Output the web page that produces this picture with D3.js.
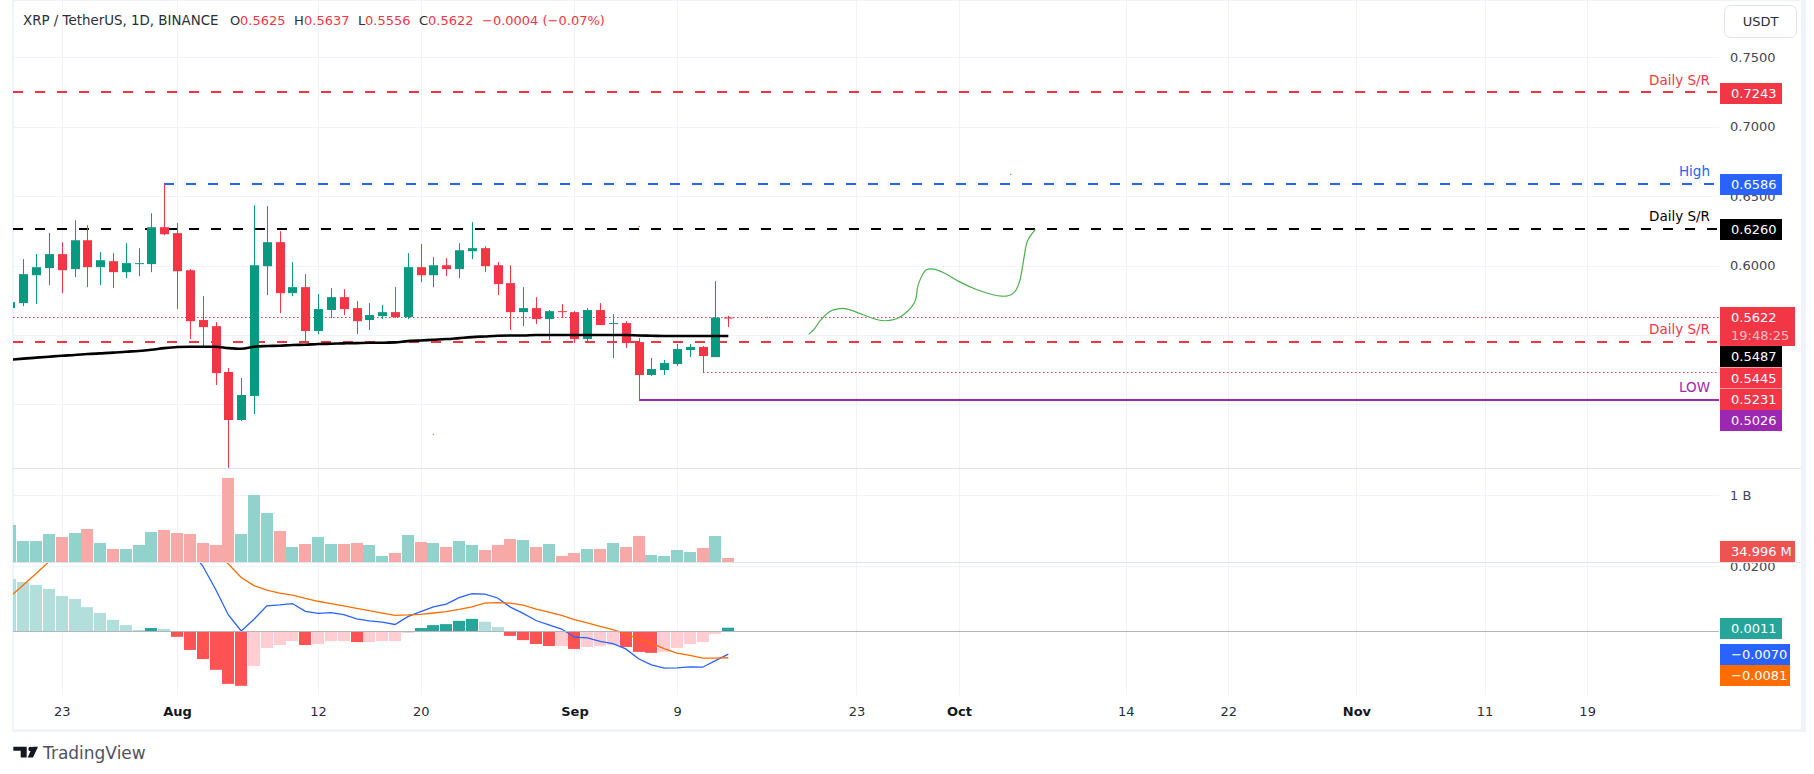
<!DOCTYPE html>
<html><head><meta charset="utf-8">
<script src="https://cdnjs.cloudflare.com/ajax/libs/d3/7.8.5/d3.min.js"></script>
<style>html,body{margin:0;padding:0;background:#fff;overflow:hidden}svg{display:block}text{font-family:"DejaVu Sans",sans-serif}</style>
</head><body><svg id="c" width="1814" height="774"></svg>
<script>
// ---- data (index 0 = 19 Jul, index 56 = 13 Sep) ----
const open =[.5693,.5729,.5930,.5981,.6082,.5974,.6182,.5988,.6031,.5952,.6010,.6010,.6276,.6233,.5966,.5607,.5563,.5233,.4887,.5060,.5995,.6168,.5801,.5844,.5528,.5679,.5772,.5693,.5607,.5635,.5664,.5628,.5988,.5930,.6002,.5974,.6103,.6125,.6002,.5873,.5664,.5693,.5614,.5671,.5664,.5470,.5679,.5578,.5585,.5448,.5211,.5247,.5290,.5391,.5413,.5340,.5625];
const high =[.5751,.6046,.6082,.6233,.6168,.6326,.6290,.6096,.6089,.6161,.6125,.6376,.6586,.6305,.5974,.5779,.5592,.5261,.5189,.6434,.6427,.6247,.6024,.5938,.5794,.5837,.5830,.5743,.5729,.5715,.5844,.6089,.6154,.6060,.6053,.6161,.6312,.6139,.6024,.6002,.5844,.5772,.5679,.5722,.5671,.5693,.5729,.5650,.5599,.5477,.5333,.5319,.5434,.5434,.5420,.5887,.5637];
const low  =[.5674,.5707,.5722,.5858,.5801,.5916,.5844,.5858,.5837,.5909,.5923,.5952,.6218,.5686,.5470,.5413,.5139,.4542,.4880,.4930,.5787,.5657,.5779,.5448,.5506,.5621,.5643,.5506,.5535,.5614,.5621,.5614,.5880,.5844,.5923,.5909,.6046,.5952,.5787,.5535,.5563,.5578,.5463,.5621,.5441,.5453,.5571,.5333,.5405,.5026,.5204,.5211,.5276,.5340,.5231,.5340,.5556];
const close=[.5736,.5938,.5988,.6082,.5966,.6182,.5988,.6038,.5952,.6017,.6017,.6276,.6225,.5959,.5599,.5556,.5225,.4887,.5067,.6002,.6168,.5801,.5844,.5528,.5686,.5772,.5686,.5599,.5643,.5664,.5628,.5988,.5930,.6002,.5974,.6110,.6125,.5995,.5866,.5664,.5693,.5614,.5671,.5664,.5470,.5679,.5571,.5585,.5441,.5211,.5254,.5297,.5398,.5413,.5348,.5625,.5622];
const ma200=[.5321,.5329,.5336,.5343,.5350,.5355,.5362,.5367,.5372,.5379,.5384,.5393,.5405,.5413,.5415,.5415,.5415,.5405,.5400,.5415,.5420,.5422,.5427,.5429,.5434,.5436,.5439,.5441,.5443,.5443,.5446,.5455,.5460,.5465,.5470,.5477,.5484,.5489,.5494,.5496,.5496,.5499,.5499,.5499,.5499,.5499,.5499,.5499,.5499,.5496,.5494,.5492,.5492,.5492,.5492,.5492,.5492];
const volumeM=[555,315,315,420,375,435,495,285,195,195,255,450,480,435,420,285,255,1260,420,1005,735,465,225,270,375,270,270,285,255,90,135,405,300,285,225,315,255,180,255,345,330,225,270,90,135,195,195,285,225,390,105,90,180,150,210,390,60];
const hist=[.0160,.0151,.0142,.0130,.0108,.0099,.0074,.0056,.0035,.0019,.0004,.0010,.0007,-.0017,-.0057,-.0085,-.0118,-.0161,-.0167,-.0106,-.0051,-.0042,-.0030,-.0042,-.0039,-.0030,-.0030,-.0033,-.0033,-.0030,-.0030,-.0005,.0010,.0019,.0022,.0032,.0038,.0029,.0013,-.0014,-.0027,-.0039,-.0045,-.0045,-.0054,-.0048,-.0045,-.0042,-.0048,-.0063,-.0066,-.0063,-.0051,-.0039,-.0033,-.0008,.0011];
const macd=[null,null,null,null,null,null,null,null,null,null,null,null,null,null,.0249,.0200,.0129,.0050,.0001,.0037,.0078,.0081,.0085,.0061,.0055,.0057,.0051,.0038,.0032,.0028,.0021,.0045,.0060,.0075,.0083,.0103,.0115,.0114,.0102,.0074,.0055,.0033,.0020,.0007,-.0018,-.0020,-.0031,-.0038,-.0054,-.0084,-.0103,-.0113,-.0112,-.0109,-.0110,-.0090,-.0070];
const signal=[.0107,.0142,.0177,.0213,null,null,null,null,null,null,null,null,null,null,null,null,.0244,.0206,.0165,.0140,.0126,.0117,.0111,.0101,.0092,.0085,.0078,.0070,.0063,.0056,.0049,.0050,.0052,.0056,.0060,.0067,.0075,.0086,.0088,.0086,.0080,.0068,.0059,.0049,.0036,.0026,.0015,.0005,-.0008,-.0023,-.0037,-.0053,-.0067,-.0074,-.0082,-.0082,-.0081];
const sketchIdx=[62.28,62.75,63.14,63.92,64.57,65.22,66.52,67.56,68.29,69.12,69.77,70.55,70.81,71.20,71.46,71.98,72.76,74.06,75.36,76.66,77.31,77.83,78.35,78.74,78.95,79.08,79.34,79.96];
const sketchPrice=[.5504,.5547,.5599,.5669,.5688,.5688,.5645,.5611,.5602,.5616,.5652,.5739,.5859,.5942,.5969,.5974,.5950,.5882,.5827,.5789,.5779,.5782,.5810,.5890,.5990,.6062,.6177,.6260];
const speckIdx=[49,32.94,59,77.98];
const speckPrice=[.6285,.4788,.5631,.6661];
const speckKind=["red","green","green","green"];
const priceGrid=[.75,.70,.65,.60,.55,.50];
const priceLabels=[.75,.70,.65,.60];
const volumeTicks=[1000];
const macdTicks=[.02];
const timeTickIdx=[4,13,24,32,44,52,66,74,87,95,105,115,123];
const timeTickLabels=["23","Aug","12","20","Sep","9","23","Oct","14","22","Nov","11","19"];
const monthLabels=["Aug","Sep","Oct","Nov"];
const levelNames=["red1","blue","black","red2","redLow","purple"];
const levelValues=[.7243,.6586,.6260,.5445,.5231,.5026];
const levelStartIdx=[null,12,null,null,54,49];
const legend=[["O","n"],["0.5625","v"],["H","n"],["0.5637","v"],["L","n"],["0.5556","v"],["C","n"],["0.5622","v"],["−0.0004 (−0.07%)","v"]];

// ---- layout ----
const RED="#F23645",GRN="#089981",BLUE="#2962FF",BLK="#000",PUR="#9C27B0",ORG="#FF6D00";
const L=13,R=1719,AX=1720;
const svg=d3.select("#c");
const x=d3.scaleLinear().domain([0,56]).range([10.48,728.3]);
const y=d3.scaleLinear().domain([.75,.50]).range([57.3,404.3]);
const yV=d3.scaleLinear().domain([0,1000]).range([562,495.3]);
const yM=d3.scaleLinear().domain([.02,0]).range([566,631.3]);
const cx=i=>Math.round(x(i));
const defs=svg.append("defs");
function clip(id,a,b,c,d){defs.append("clipPath").attr("id",id).append("rect").attr("x",a).attr("y",b).attr("width",c-a).attr("height",d-b);}
clip("pP",L,1,R,468);clip("pV",L,468,R,562);clip("pM",L,563,R,695);clip("aM",1720,563,1800,700);

// frame and grid
const G="#F0F3FA";
const grid=svg.append("g").attr("stroke",G).attr("stroke-width",1);
grid.selectAll("line.v").data(timeTickIdx).join("line").attr("x1",d=>cx(d)+.5).attr("x2",d=>cx(d)+.5).attr("y1",1).attr("y2",695);
grid.selectAll("line.p").data(priceGrid).join("line").attr("x1",L).attr("x2",R).attr("y1",d=>Math.round(y(d))+.5).attr("y2",d=>Math.round(y(d))+.5);
grid.selectAll("line.w").data(volumeTicks).join("line").attr("x1",L).attr("x2",R).attr("y1",d=>Math.round(yV(d))+.5).attr("y2",d=>Math.round(yV(d))+.5);
grid.selectAll("line.m").data(macdTicks).join("line").attr("x1",L).attr("x2",R).attr("y1",d=>Math.round(yM(d))+.5).attr("y2",d=>Math.round(yM(d))+.5);
svg.append("rect").attr("x",12).attr("y",0).attr("width",2).attr("height",731).attr("fill",G);
svg.append("rect").attr("x",1801).attr("y",0).attr("width",5).attr("height",731).attr("fill",G);
svg.append("rect").attr("x",12).attr("y",729).attr("width",1794).attr("height",3).attr("fill",G);
svg.append("rect").attr("x",12).attr("y",0).attr("width",1794).attr("height",1).attr("fill",G);
svg.append("line").attr("x1",L).attr("x2",1801).attr("y1",468.5).attr("y2",468.5).attr("stroke","#E0E3EB");
svg.append("line").attr("x1",L).attr("x2",1801).attr("y1",562.5).attr("y2",562.5).attr("stroke","#E0E3EB");

// volume
const idx=d3.range(open.length);
svg.append("g").attr("clip-path","url(#pV)").selectAll("rect").data(idx).join("rect")
 .attr("x",i=>cx(i)-6).attr("width",12).attr("y",i=>yV(volumeM[i])).attr("height",i=>yV(0)-yV(volumeM[i]))
 .attr("fill",i=>close[i]>=open[i]?"#92D2CC":"#F7A9A7");

// macd pane
function histColor(i){const h=hist[i],p=i?hist[i-1]:h+1;
 return h>=0?(h>p?"#26A69A":"#B2DFDB"):(h<p?"#FF5252":"#FFCDD2");}
const gM=svg.append("g").attr("clip-path","url(#pM)");
gM.selectAll("rect").data(idx).join("rect")
 .attr("x",i=>cx(i)-6).attr("width",12)
 .attr("y",i=>Math.min(yM(0),yM(hist[i]))).attr("height",i=>Math.abs(yM(0)-yM(hist[i])))
 .attr("fill",histColor);
svg.append("line").attr("x1",L).attr("x2",R).attr("y1",631.5).attr("y2",631.5).attr("stroke","#B2B5BE");
const lineOf=(arr,sc)=>d3.line().defined(i=>arr[i]!==null).x(i=>x(i)).y(i=>sc(arr[i]));
gM.append("path").attr("d",lineOf(macd,yM)(idx)).attr("fill","none").attr("stroke",BLUE).attr("stroke-width",1.3);
gM.append("path").attr("d",lineOf(signal,yM)(idx)).attr("fill","none").attr("stroke",ORG).attr("stroke-width",1.3);

// price pane
const gP=svg.append("g").attr("clip-path","url(#pP)");
const style={red1:[RED,"10 12",2],blue:[BLUE,"10 12",2],black:[BLK,"10 12",2],red2:[RED,"10 12",2],redLow:[RED,"1.5 2.5",1],purple:[PUR,null,2]};
const lastY=Math.floor(y(close[56]))+.5;
gP.append("line").attr("x1",L).attr("x2",R).attr("y1",lastY).attr("y2",lastY).attr("stroke",RED).attr("stroke-dasharray","1.5 2.5");
levelNames.forEach((n,k)=>{const s=style[n];
 const ly=Math.floor(y(levelValues[k]))+(s[2]===1?.5:0);
 gP.append("line").attr("x1",levelStartIdx[k]===null?L:cx(levelStartIdx[k])).attr("x2",R)
  .attr("y1",ly).attr("y2",ly).attr("stroke",s[0]).attr("stroke-width",s[2]).attr("stroke-dasharray",s[1]);
});
const cG=gP.append("g").selectAll("g").data(idx).join("g");
cG.append("line").attr("x1",i=>cx(i)+.5).attr("x2",i=>cx(i)+.5).attr("y1",i=>y(high[i])).attr("y2",i=>y(low[i]))
 .attr("stroke",i=>close[i]>=open[i]?GRN:RED);
cG.append("rect").attr("x",i=>cx(i)-4).attr("width",9)
 .attr("y",i=>y(Math.max(open[i],close[i]))).attr("height",i=>Math.max(1,Math.abs(y(open[i])-y(close[i]))))
 .attr("fill",i=>close[i]>=open[i]?GRN:RED);
gP.append("path").attr("d",d3.line().x(i=>x(i)).y(i=>y(ma200[i])).curve(d3.curveMonotoneX)(idx))
 .attr("fill","none").attr("stroke",BLK).attr("stroke-width",2.6);
gP.append("path").attr("d",d3.line().x((d,i)=>x(sketchIdx[i])).y(d=>y(d)).curve(d3.curveCatmullRom)(sketchPrice))
 .attr("fill","none").attr("stroke","#4CAF50").attr("stroke-width",1.2);
gP.selectAll("rect.s").data(speckIdx).join("rect").attr("class","s").attr("x",d=>x(d)).attr("y",(d,i)=>y(speckPrice[i])).attr("width",1.2).attr("height",1.2)
 .attr("fill",(d,i)=>speckKind[i]==="red"?RED:"#4CAF50");

// axes
function styleAxis(g){g.select(".domain").remove();g.selectAll(".tick line").remove();g.selectAll("text").attr("font-family",'"DejaVu Sans",sans-serif').attr("font-size",13).attr("fill","#434651");}
svg.append("g").attr("transform",`translate(${AX},0)`).call(d3.axisRight(y).tickValues(priceLabels).tickFormat(d3.format(".4f")).tickSize(0).tickPadding(10)).call(styleAxis);
svg.append("g").attr("transform",`translate(${AX},0)`).call(d3.axisRight(yV).tickValues(volumeTicks).tickFormat(()=>"1 B").tickSize(0).tickPadding(10)).call(styleAxis);
svg.append("g").attr("clip-path","url(#aM)").append("g").attr("transform",`translate(${AX},0)`).call(d3.axisRight(yM).tickValues(macdTicks).tickFormat(d3.format(".4f")).tickSize(0).tickPadding(10)).call(styleAxis);
const tAxis=svg.append("g").attr("transform","translate(0,696)").call(d3.axisBottom(x).tickValues(timeTickIdx).tickFormat((d,i)=>timeTickLabels[i]).tickSize(0).tickPadding(11)).call(styleAxis);
tAxis.selectAll("text").attr("fill",(d,i)=>monthLabels.includes(timeTickLabels[i])?"#131722":"#2A2E39").attr("font-weight",(d,i)=>monthLabels.includes(timeTickLabels[i])?"bold":"normal");

// text labels on lines
function note(t,yy,c){svg.append("text").attr("x",1710).attr("y",yy).attr("text-anchor","end").attr("dominant-baseline","central").attr("font-size",13.5).attr("fill",c).text(t);}
note("Daily S/R",80,RED);note("High",171,BLUE);note("Daily S/R",216,BLK);note("Daily S/R",329,RED);note("LOW",387,PUR);

// right-hand value boxes
function box(t,top,h,w,c,sub){
 svg.append("rect").attr("x",AX).attr("y",top).attr("width",w).attr("height",h).attr("fill",c);
 svg.append("text").attr("x",1731).attr("y",top+h/2+(sub?-9:0)).attr("dominant-baseline","central").attr("font-size",13).attr("fill","#fff").text(t);
 if(sub)svg.append("text").attr("x",1731).attr("y",top+h/2+9).attr("dominant-baseline","central").attr("font-size",13).attr("fill","#FFFFFF").attr("fill-opacity",.7).text(sub);
}
box("0.7243",83,21,62,RED);box("0.6586",174,21,62,BLUE);box("0.6260",219,21,62,BLK);
box("0.5622",307,39,75,RED,"19:48:25");
box("0.5487",346,21,62,BLK);box("0.5445",367.5,21,62,RED);box("0.5231",389,21,62,RED);box("0.5026",410,21,62,PUR);
box("34.996 M",541,21,75,"#EF5350");
box("0.0011",618,21,62,"#26A69A");box("−0.0070",644,21,70,BLUE);box("−0.0081",665,21,70,ORG);

// currency button
svg.append("rect").attr("x",1724.5).attr("y",5.5).attr("width",72).attr("height",32).attr("rx",6).attr("fill","#fff").attr("stroke","#E0E3EB");
svg.append("text").attr("x",1760.5).attr("y",21).attr("text-anchor","middle").attr("dominant-baseline","central").attr("font-size",13).attr("fill","#2A2E39").text("USDT");

// legend
svg.append("text").attr("x",23).attr("y",20).attr("dominant-baseline","central").attr("font-size",13.4).attr("fill","#2A2E39").text("XRP / TetherUS, 1D, BINANCE");
const legendX=[230,240,294,304,358,365,419,428,482];
legend.forEach((d,i)=>svg.append("text").attr("x",legendX[i]).attr("y",20).attr("dominant-baseline","central").attr("font-size",13).attr("fill",d[1]==="v"?RED:"#2A2E39").text(d[0]));

// logo
svg.append("path").attr("d","M13.3 746.7H26.7V757.4H20.7V750.7H13.3Z").attr("fill","#131722");
svg.append("circle").attr("cx",30.5).attr("cy",749).attr("r",2.2).attr("fill","#131722");
svg.append("path").attr("d","M32.5 746.7H38L33 757.4H27.7Z").attr("fill","#131722");
svg.append("text").attr("x",43).attr("y",752.5).attr("dominant-baseline","central").attr("font-family","Lato").attr("font-size",17).attr("fill","#50535E").text("TradingView");
</script></body></html>
